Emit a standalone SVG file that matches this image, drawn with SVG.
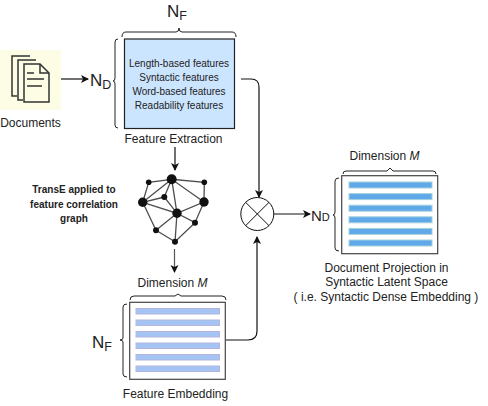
<svg xmlns="http://www.w3.org/2000/svg" width="488" height="406" viewBox="0 0 488 406">
<style>
text{font-family:"Liberation Sans",Arial,sans-serif;fill:#222;text-anchor:middle}
.s{font-size:10px}.m{font-size:12px}
.t{font-size:10px;font-weight:bold}
.big{font-size:17px;text-anchor:start}.sub{font-size:12.5px;text-anchor:start}
.c{fill:none;stroke:#111;stroke-width:1.2}
.b{fill:none;stroke:#222;stroke-width:1}
.e{stroke:#4d4d4d;stroke-width:1.3;fill:none}
.barA{fill:#a4c4f4;stroke:#b5b5e0;stroke-width:1}
.barB{fill:#5fa8ea;stroke:#a5d2dc;stroke-width:1}
.frame{fill:#fff;stroke:#444;stroke-width:1.2}
.d{fill:none;stroke:#333;stroke-width:1.5}
</style>
<defs><marker id="a" markerWidth="9" markerHeight="9" refX="7" refY="4" orient="auto" markerUnits="userSpaceOnUse"><path d="M0,0L8,4L0,8L2,4Z" fill="#111"/></marker></defs>
<g id="connectors">
<path class="c" d="M61 79H88" marker-end="url(#a)"/>
<path class="c" d="M241 79H251Q259 79 259 87V197" marker-end="url(#a)"/>
<path class="c" d="M175 147V170" marker-end="url(#a)"/>
<path class="c" d="M174.500 249V272" style="stroke:#555" marker-end="url(#a)"/>
<path class="c" d="M226 340H248Q257 340 257 331V237" marker-end="url(#a)"/>
<path class="c" d="M274 214H310" marker-end="url(#a)"/>
</g>
<g id="documents">
<rect x="0" y="50" width="61" height="60" fill="#fdfde6"/>
<path class="d" d="M30 56H12V96H17"/>
<path class="d" d="M36 60H18V100H23"/>
<path class="d" d="M24 64H40L49 73V102H24Z" fill="#fdfde6"/>
<path class="d" d="M40 64V73H49M27 73H34M27 79H44M27 86H42"/>
<text class="m" x="30.500" y="127">Documents</text>
</g>
<g id="nd-left"><text class="big" x="90" y="85.500">N<tspan class="sub" dy="3">D</tspan></text>
<path class="b" d="M118 39Q115 39 115 42V78Q115 81 113 81Q115 81 115 84V125Q115 128 118 128"/></g>
<g id="nf-top"><text class="big" x="167" y="17">N<tspan class="sub" dy="3">F</tspan></text>
<path class="b" d="M122 37Q122 32 126 32H176Q179 32 179 28Q179 32 182 32H232Q236 32 236 37"/></g>
<g id="feature-extraction">
<rect x="124.500" y="39" width="110" height="89.500" fill="#cce5ff" stroke="#222" stroke-width="1.200"/>
<text class="s" x="179" y="67">Length-based features</text>
<text class="s" x="179" y="81">Syntactic features</text>
<text class="s" x="179" y="95">Word-based features</text>
<text class="s" x="179" y="109">Readability features</text>
<text class="m" x="173.500" y="143">Feature Extraction</text>
</g>
<g id="transe-label">
<text class="t" x="74" y="193">TransE applied to</text>
<text class="t" x="74" y="207.500">feature correlation</text>
<text class="t" x="74" y="221.500">graph</text>
</g>
<g id="graph">
<path class="e" d="M171.700 179.300L148.700 182.300L142.700 202.300L164.300 197L171.700 179.300L204.300 182.300L204 202L171.700 179.300L177 213.300L204 202L195 222.700L177 213.300L164.300 197L142.700 202.300L177 213.300L156 230.300L142.700 202.300M171.700 179.300L142.700 202.300M156 230.300L175 241.700L195 222.700M177 213.300L175 241.700"/>
<g fill="#111">
<circle cx="171.700" cy="179.300" r="5"/><circle cx="148.700" cy="182.300" r="2.800"/><circle cx="204.300" cy="182.300" r="2.800"/><circle cx="142.700" cy="202.300" r="4.700"/><circle cx="164.300" cy="197" r="3"/><circle cx="204" cy="202" r="4.700"/><circle cx="177" cy="213.300" r="4.700"/><circle cx="195" cy="222.700" r="3"/><circle cx="156" cy="230.300" r="3"/><circle cx="175" cy="241.700" r="3"/>
</g>
</g>
<g id="feature-embedding">
<text class="m" x="172.500" y="287">Dimension <tspan font-style="italic">M</tspan></text>
<path class="b" d="M130 300Q130 296 134 296H175L178 294L181 296H222Q226 296 226 300"/>
<rect class="frame" x="129.700" y="302.300" width="95.600" height="77"/>
<rect class="barA" x="136" y="308.500" width="83.500" height="5.500"/>
<rect class="barA" x="136" y="320" width="83.500" height="5.500"/>
<rect class="barA" x="136" y="331.500" width="83.500" height="5.500"/>
<rect class="barA" x="136" y="343" width="83.500" height="5.500"/>
<rect class="barA" x="136" y="354.500" width="83.500" height="5.500"/>
<rect class="barA" x="136" y="366" width="83.500" height="5.500"/>
<text class="m" x="175.500" y="398">Feature Embedding</text>
</g>
<g id="nf-left"><text class="big" x="92" y="348">N<tspan class="sub" dy="3">F</tspan></text>
<path class="b" d="M127 304Q123 304 123 307V338Q123 340 120 340Q123 340 123 342V374Q123 377 127 377"/></g>
<g id="multiply">
<circle cx="257.300" cy="214" r="16.500" fill="#fff" stroke="#111" stroke-width="1"/>
<path d="M245.600 202.300L269 225.700M269 202.300L245.600 225.700" stroke="#111" stroke-width="1" fill="none"/>
</g>
<g id="document-projection">
<text class="m" x="384.500" y="160">Dimension <tspan font-style="italic">M</tspan></text>
<path class="b" d="M343 174Q343 171 346 171H387L390 168L393 171H433Q436 171 436 174"/>
<rect class="frame" x="341.700" y="175.700" width="96" height="78"/>
<rect class="barB" x="349" y="182" width="83" height="6"/>
<rect class="barB" x="349" y="193.600" width="83" height="6"/>
<rect class="barB" x="349" y="205.200" width="83" height="6"/>
<rect class="barB" x="349" y="216.800" width="83" height="6"/>
<rect class="barB" x="349" y="228.400" width="83" height="6"/>
<rect class="barB" x="349" y="240" width="83" height="6"/>
<text class="m" x="386.500" y="272">Document Projection in</text>
<text class="m" x="386.500" y="286">Syntactic Latent Space</text>
<text class="m" x="386" y="301">( i.e. Syntactic Dense Embedding )</text>
</g>
<g id="nd-right"><text class="big" x="311" y="221" style="font-size:15px">N<tspan style="font-size:11px">D</tspan></text>
<path class="b" d="M339 178Q335 178 335 181V212Q335 215 333 215Q335 215 335 218V248Q335 251 339 251"/></g>
</svg>
